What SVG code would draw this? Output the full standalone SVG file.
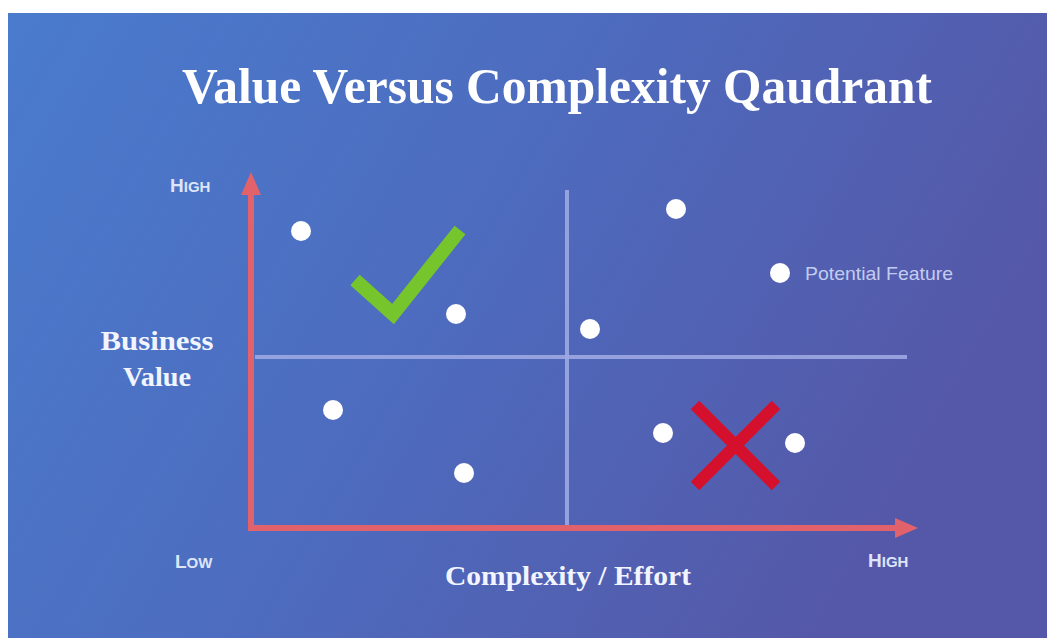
<svg xmlns="http://www.w3.org/2000/svg" width="1047" height="638" viewBox="0 0 1047 638">
  <defs>
    <linearGradient id="bg" x1="0" y1="0" x2="1" y2="0.35">
      <stop offset="0" stop-color="#4A7BCD"/>
      <stop offset="0.5" stop-color="#4D6CBF"/>
      <stop offset="1" stop-color="#5558A8"/>
    </linearGradient>
    <style>
      .title { font-family: "Liberation Serif", "DejaVu Serif", serif; font-weight: bold; fill: #FFFFFF; }
      .axis-label { font-family: "Liberation Serif", "DejaVu Serif", serif; font-weight: bold; fill: #F2F5FF; font-size: 28px; }
      .tick { font-family: "Liberation Sans", Arial, sans-serif; font-weight: bold; fill: #DDE5F8; }
      .legend { font-family: "Liberation Sans", Arial, sans-serif; fill: #C3CCF0; font-size: 19px; }
      .axis { stroke: #E2626C; stroke-width: 6; fill: none; }
      .axis-head { fill: #E2626C; }
      .divider { stroke: #9CA9E2; stroke-width: 4; fill: none; opacity: 0.9; }
      .dot { fill: #FFFFFF; }
    </style>
  </defs>

  <!-- page margin and backdrop -->
  <rect x="0" y="0" width="1047" height="638" fill="#FFFFFF"/>
  <rect x="8" y="13" width="1039" height="625" fill="url(#bg)"/>

  <!-- heading -->
  <text class="title" x="557" y="103" font-size="50" text-anchor="middle" textLength="750" lengthAdjust="spacingAndGlyphs">Value Versus Complexity Qaudrant</text>

  <!-- quadrant dividers and axes -->
  <g id="connectors">
    <line class="divider" x1="567" y1="190" x2="567" y2="525"/>
    <line class="divider" x1="255" y1="357" x2="907" y2="357"/>
    <polyline class="axis" points="251,192 251,528 897,528"/>
    <polygon class="axis-head" points="251,172 261,195 241,195"/>
    <polygon class="axis-head" points="918,528 895,518 895,538"/>
  </g>

  <!-- axis captions -->
  <g id="y-high">
    <text class="tick" x="170" y="192" font-size="19">H<tspan font-size="15">IGH</tspan></text>
  </g>
  <g id="y-low">
    <text class="tick" x="175" y="568" font-size="19">L<tspan font-size="15">OW</tspan></text>
  </g>
  <g id="x-high">
    <text class="tick" x="868" y="567" font-size="19">H<tspan font-size="15">IGH</tspan></text>
  </g>
  <g id="y-title">
    <text class="axis-label" x="157" y="350" text-anchor="middle" textLength="113" lengthAdjust="spacingAndGlyphs">Business</text>
    <text class="axis-label" x="157" y="386" text-anchor="middle" textLength="68" lengthAdjust="spacingAndGlyphs">Value</text>
  </g>
  <g id="x-title">
    <text class="axis-label" x="568" y="585" text-anchor="middle" textLength="246" lengthAdjust="spacingAndGlyphs">Complexity / Effort</text>
  </g>

  <!-- quadrant markers -->
  <g id="check-mark">
    <polyline points="355,280 393,314 460,230" fill="none" stroke="#77C52C" stroke-width="14"/>
  </g>
  <g id="cross-mark">
    <line x1="695" y1="405" x2="776" y2="486" stroke="#D4102C" stroke-width="12"/>
    <line x1="776" y1="405" x2="695" y2="486" stroke="#D4102C" stroke-width="12"/>
  </g>

  <!-- features -->
  <g id="features">
    <circle class="dot" cx="301" cy="231" r="10"/>
    <circle class="dot" cx="676" cy="209" r="10"/>
    <circle class="dot" cx="456" cy="314" r="10"/>
    <circle class="dot" cx="590" cy="329" r="10"/>
    <circle class="dot" cx="333" cy="410" r="10"/>
    <circle class="dot" cx="464" cy="473" r="10"/>
    <circle class="dot" cx="663" cy="433" r="10"/>
    <circle class="dot" cx="795" cy="443" r="10"/>
  </g>

  <!-- key -->
  <g id="legend">
    <circle class="dot" cx="780" cy="273" r="10"/>
    <text class="legend" x="805" y="280" textLength="148" lengthAdjust="spacingAndGlyphs">Potential Feature</text>
  </g>
</svg>
